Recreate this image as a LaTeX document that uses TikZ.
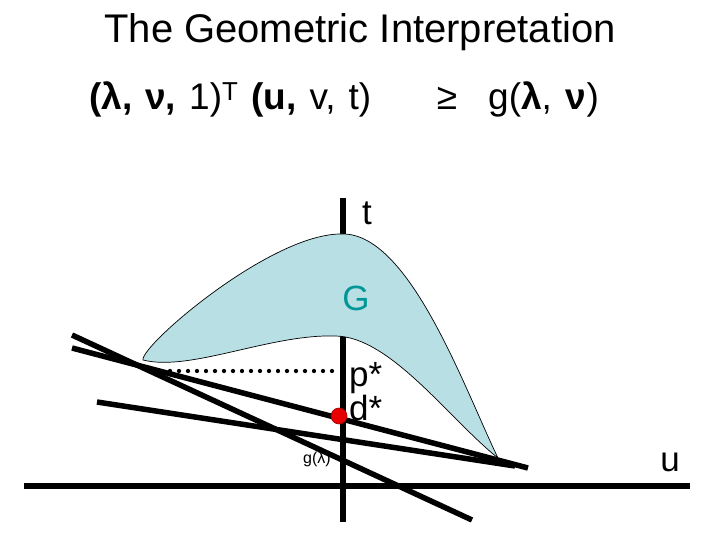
\documentclass[tikz,border=0pt]{standalone}
\usepackage{fontspec}
\setmainfont{Liberation Sans}
\usetikzlibrary{positioning,calc}
\definecolor{gfill}{RGB}{184,223,228}
\definecolor{gtext}{RGB}{0,150,150}
\definecolor{dotred}{RGB}{230,0,0}

\begin{document}
\begin{tikzpicture}[x=1pt, y=-1pt, axis/.style={line width=5.5pt, black}, cut/.style={line width=5.5pt, black}, lbl/.style={inner sep=0pt, font=\fontsize{35}{40}\selectfont}, formula/.style={inner sep=0pt, font=\fontsize{37}{40}\selectfont}]
\useasboundingbox (0,0) rectangle (720,540);
\node[inner sep=0pt, anchor=base, font=\fontsize{40}{44}\selectfont] (title) at (360,43) {The Geometric Interpretation};
\node[formula, anchor=base west] (lhs) at (89,110) {\spaceskip=13pt \textbf{(λ, ν,} 1)\textsuperscript{T} \textbf{(u,} v, t)};
\node[formula, anchor=base] (geq) at (447,110) {≥};
\node[formula, anchor=base west] (rhs) at (488,110) {\spaceskip=14pt g(\textbf{λ}, \textbf{ν})};
% axes
\coordinate (ua) at (24,486);
\coordinate (ub) at (690,486);
\coordinate (ta) at (343,198);
\coordinate (tb) at (343,522);
\draw[axis] (ua) -- (ub);
\draw[axis] (ta) -- (tb);
% the set G
\draw[fill=gfill, line width=0.7pt] (143,360) .. controls (140,346) and (272,232) .. (343,234)
  .. controls (410,234) and (465,390) .. (498,458)
  .. controls (450,420) and (390,336) .. (335,336)
  .. controls (270,334) and (190,372) .. (143,360) -- cycle;
\node[lbl, anchor=base, text=gtext] (G) at (356,310) {G};
% p* level
\coordinate (pa) at (152,371);
\coordinate (pb) at (338,371);
\draw[line width=4.3pt, line cap=round, dash pattern=on 0pt off 9pt] (pa) -- (pb);
% supporting lines
\coordinate (l1a) at (72,335);
\coordinate (l1b) at (472,520);
\coordinate (l2a) at (72,348);
\coordinate (l2b) at (528,468);
\coordinate (l3a) at (97,402);
\coordinate (l3b) at (515,466);
\draw[cut] (l1a) -- (l1b);
\draw[cut] (l2a) -- (l2b);
\draw[cut] (l3a) -- (l3b);
\node[circle, fill=dotred, draw=dotred!70!black, line width=0.6pt, minimum size=16pt, inner sep=0pt] (dstar) at (339,416) {};
% labels
\node[lbl, anchor=base] (tlab) at (367,225) {t};
\node[lbl, anchor=base] (ulab) at (670,471) {u};
\node[lbl, anchor=base west] (plab) at (349,386) {p*};
\node[lbl, anchor=base west] (dlab) at (349,420) {d*};
\node[inner sep=0pt, font=\fontsize{16}{18}\selectfont] (glab) at (317,459) {g(λ)};
\end{tikzpicture}
\end{document}
